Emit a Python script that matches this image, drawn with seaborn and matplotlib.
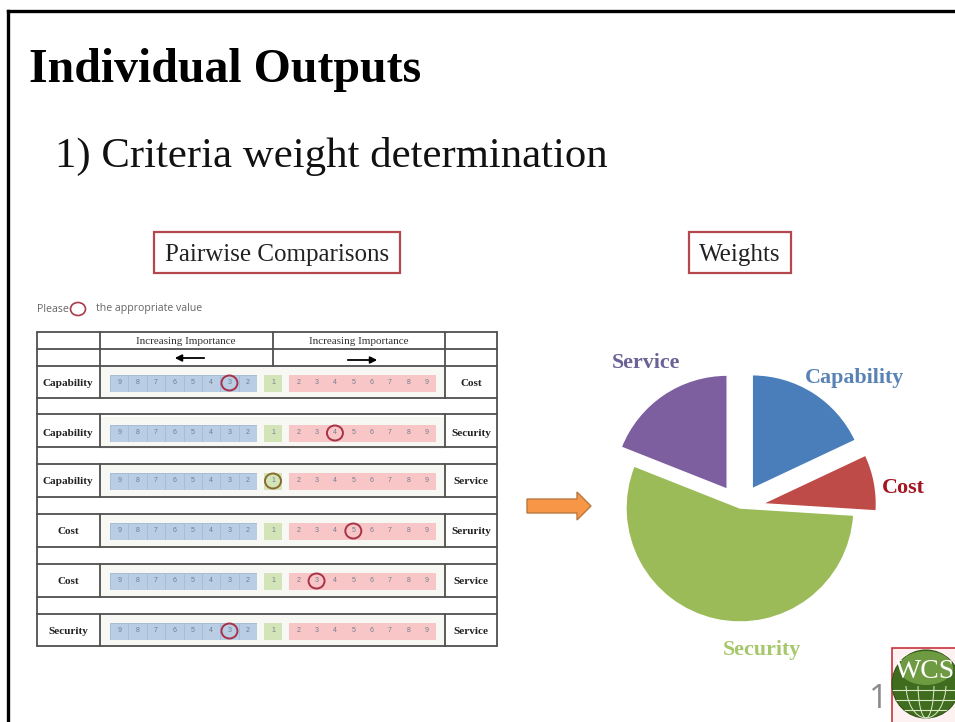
"""Individual Outputs slide: pairwise comparison table, arrow and criteria weight pie."""

import matplotlib
matplotlib.use("Agg")

import matplotlib.patches as mpatches
import matplotlib.pyplot as plt
import numpy as np
import seaborn as sns
from matplotlib.colors import ListedColormap

WIDTH, HEIGHT = 955, 722

TITLE = "Individual Outputs"
SUBTITLE = "1) Criteria weight determination"

LEFT_NAMES = ["Capability", "Capability", "Capability", "Cost", "Cost", "Security"]
RIGHT_NAMES = ["Cost", "Security", "Service", "Serurity", "Service", "Service"]
LEFT_SCALE = [9, 8, 7, 6, 5, 4, 3, 2]
RIGHT_SCALE = [2, 3, 4, 5, 6, 7, 8, 9]
# circled answer in each row: side of the scale and value
CIRCLED_SIDE = ["left", "right", "middle", "right", "right", "left"]
CIRCLED_VALUE = [3, 4, 1, 5, 3, 3]

CRITERIA = ["Capability", "Cost", "Security", "Service"]
WEIGHTS = [18, 8, 55, 19]
EXPLODE = [0.2, 0.2, 0, 0.2]
PIE_COLORS = ["#4a7ebb", "#be4b48", "#9bbb59", "#7d5fa0"]
LABEL_COLORS = ["#5a83b5", "#a3141f", "#a6c86c", "#6c6296"]

ROW_CENTERS = [383, 433, 481, 531, 581, 631]


def px_axes(fig, x0, y0, x1, y1, zorder=1):
    return fig.add_axes([x0 / WIDTH, 1 - y1 / HEIGHT, (x1 - x0) / WIDTH, (y1 - y0) / HEIGHT],
                        zorder=zorder)


def strip(fig, x0, x1, yc, labels, color, edge):
    ax = px_axes(fig, x0, yc - 8.5, x1, yc + 8.5, zorder=2)
    vals = np.array([list(labels)], dtype=float)
    sns.heatmap(vals, ax=ax, cmap=ListedColormap([color]), cbar=False,
                annot=np.array([[str(v) for v in labels]]), fmt="",
                annot_kws={"fontsize": 5, "color": "#6f7f90", "family": "Liberation Sans"},
                linewidths=0.5, linecolor=edge, xticklabels=False, yticklabels=False)


sns.set_theme(style="white")
plt.rcParams["font.family"] = ["Liberation Serif", "DejaVu Serif"]

fig = plt.figure(figsize=(WIDTH / 100, HEIGHT / 100), dpi=100, facecolor="white")

# background layer: slide frame and table rules
bg = px_axes(fig, 0, 0, WIDTH, HEIGHT, zorder=0)
bg.set_xlim(0, WIDTH)
bg.set_ylim(HEIGHT, 0)
bg.axis("off")

bg.plot([8, 8], [HEIGHT, 11], color="black", lw=2.4, solid_capstyle="projecting")
bg.plot([8, WIDTH], [11, 11], color="black", lw=2.4, solid_capstyle="projecting")

bg.text(29, 70, TITLE, fontsize=34.5, fontweight="bold", color="black", va="center")
bg.text(55, 156, SUBTITLE, fontsize=30.8, color="#111111", va="center")

for x0, x1, label in [(153.5, 400, "Pairwise Comparisons"), (688.5, 791, "Weights")]:
    bg.add_patch(mpatches.Rectangle((x0, 232), x1 - x0, 40.5, fill=False,
                                    edgecolor="#b5474e", lw=1.6))
    bg.text((x0 + x1) / 2, 255, label, fontsize=18, color="#222222", ha="center", va="center")

# please-circle note
note_font = ["Open Sans", "DejaVu Sans"]
bg.text(37, 309, "Please", fontsize=7.7, color="#666666", va="center", family=note_font)
bg.add_patch(mpatches.Ellipse((78, 309), 15, 13, fill=False, edgecolor="#a83a4a", lw=1.2))
bg.text(96, 309, "the appropriate value", fontsize=7.6, color="#666666", va="center",
        family=note_font)

# table frame
RULE = "#4f4f4f"
for y in [332, 349, 365.7, 398, 414.3, 447.3, 464.3, 496.7, 514, 547.3, 564.3, 597.3, 614, 646]:
    bg.plot([37, 497], [y, y], color=RULE, lw=1.3)
bg.plot([37, 37], [332, 646], color=RULE, lw=1.3)
bg.plot([497, 497], [332, 646], color=RULE, lw=1.3)
for x in [99.5, 445]:
    bg.plot([x, x], [332, 398], color=RULE, lw=1.3)
    for y0, y1 in [(414.3, 447.3), (464.3, 496.7), (514, 547.3), (564.3, 597.3), (614, 646)]:
        bg.plot([x, x], [y0, y1], color=RULE, lw=1.3)
bg.plot([273, 273], [332, 365.7], color=RULE, lw=1.3)

for xc in [186, 359]:
    bg.text(xc, 341, "Increasing Importance", fontsize=8, color="#333333", ha="center", va="center")
bg.annotate("", xy=(172, 358), xytext=(207, 358),
            arrowprops=dict(arrowstyle="-|>", color="black", lw=1.3, mutation_scale=10))
bg.annotate("", xy=(380, 360), xytext=(345, 360),
            arrowprops=dict(arrowstyle="-|>", color="black", lw=1.3, mutation_scale=10))

for yc, left, right in zip(ROW_CENTERS, LEFT_NAMES, RIGHT_NAMES):
    bg.add_patch(mpatches.Rectangle((100, yc - 16), 345, 32, color="#f7f7f3", lw=0))
    bg.text(68, yc, left, fontsize=8.1, fontweight="bold", color="#222222", ha="center", va="center")
    bg.text(471, yc, right, fontsize=8.1, fontweight="bold", color="#222222", ha="center", va="center")

# scale strips
for yc in ROW_CENTERS:
    strip(fig, 110, 257, yc, LEFT_SCALE, "#b9cde5", "#a9bdd6")
    strip(fig, 264, 282, yc, [1], "#d3e4b8", "#d3e4b8")
    strip(fig, 289, 436, yc, RIGHT_SCALE, "#f8c6c6", "#f8c6c6")

# weights pie
pie_ax = px_axes(fig, 740 - 142.5, 508 - 142.5, 740 + 142.5, 508 + 142.5, zorder=2)
pie_ax.pie(WEIGHTS, colors=sns.color_palette(PIE_COLORS), explode=EXPLODE, startangle=90,
           counterclock=False, radius=1)
pie_ax.patch.set_alpha(0)

# top layer: answer circles, arrow, pie labels, logo
top = px_axes(fig, 0, 0, WIDTH, HEIGHT, zorder=5)
top.set_xlim(0, WIDTH)
top.set_ylim(HEIGHT, 0)
top.axis("off")

for yc, side, val in zip(ROW_CENTERS, CIRCLED_SIDE, CIRCLED_VALUE):
    if side == "left":
        xc = 110 + (LEFT_SCALE.index(val) + 0.5) * 147 / 8
    elif side == "right":
        xc = 289 + (RIGHT_SCALE.index(val) + 0.5) * 147 / 8
    else:
        xc = 273
    color = "#8a6a2e" if side == "middle" else "#a83248"
    top.add_patch(mpatches.Ellipse((xc, yc), 16, 15, fill=False, edgecolor=color, lw=1.4))

top.add_patch(mpatches.FancyArrow(527, 506, 64, 0, width=14, head_width=28, head_length=14,
                                  length_includes_head=True, facecolor="#f79646",
                                  edgecolor="#b9793f", lw=1))

label_pos = [(854, 378), (903, 488), (762, 650), (646, 363)]
for name, color, (x, y) in zip(CRITERIA, LABEL_COLORS, label_pos):
    top.text(x, y, name, fontsize=15.8, fontweight="bold", color=color, ha="center", va="center")

# page number and logo
top.text(879, 699, "1", fontsize=24, color="#8a8a8a", ha="center", va="center",
         family=["Open Sans", "DejaVu Sans"])
top.add_patch(mpatches.Rectangle((892, 648), 70, 80, facecolor="#fdf1f1", edgecolor="#c8323c", lw=1.2))
globe = mpatches.Circle((926, 684), 34, facecolor="#3f6c1e", edgecolor="#2f5216", lw=0.8)
top.add_patch(globe)
top.add_patch(mpatches.Ellipse((926, 668), 54, 34, facecolor="#6e9a42", lw=0))
for y in [690, 700, 710]:
    line, = top.plot([892, 960], [y, y], color="#dfeccc", lw=0.8)
    line.set_clip_path(globe)
for w in [16, 40]:
    arc = mpatches.Ellipse((926, 684), w, 68, fill=False, edgecolor="#dfeccc", lw=0.7)
    top.add_patch(arc)
    arc.set_clip_path(mpatches.Rectangle((890, 686), 70, 40, transform=top.transData))
top.text(925, 671, "WCS", fontsize=20, color="white", ha="center", va="center")

fig.savefig("out.png", dpi=100)
